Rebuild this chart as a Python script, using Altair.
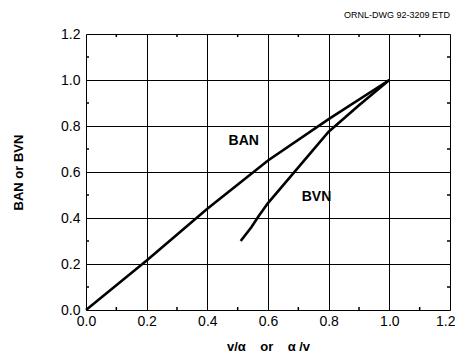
import altair as alt
import pandas as pd

ban_x = [0.0, 0.2, 0.4, 0.6, 0.8, 1.0]
ban_y = [0.0, 0.215, 0.44, 0.65, 0.83, 1.0]
bvn_x = [0.51, 0.545, 0.57, 0.6, 0.7, 0.8, 0.9, 1.0]
bvn_y = [0.30, 0.36, 0.41, 0.465, 0.62, 0.775, 0.89, 1.0]
label_text = ["BAN", "BVN"]
label_x = [0.52, 0.76]
label_y = [0.735, 0.49]
major = [0.0, 0.2, 0.4, 0.6, 0.8, 1.0, 1.2]
minor = [0.1, 0.3, 0.5, 0.7, 0.9, 1.1]

W, H = 364, 276
FONT = "Liberation Sans"
NB = "\u00a0"

df = pd.concat([
    pd.DataFrame({"x": ban_x, "y": ban_y, "s": "BAN"}),
    pd.DataFrame({"x": bvn_x, "y": bvn_y, "s": "BVN"}),
])
labels = pd.DataFrame({"t": label_text, "x": label_x, "y": label_y})
mdf = pd.DataFrame({"v": minor})

xs = alt.Scale(domain=[0, 1.2], nice=False, zero=False)
ys = alt.Scale(domain=[0, 1.2], nice=False, zero=False)

xtitle = "v/\u03b1" + NB * 4 + "or" + NB * 4 + "\u03b1 /v"

xaxis = alt.Axis(values=major, format=".1f", grid=True, gridColor="black", gridWidth=1,
                 gridOpacity=1, domain=False, ticks=False, labelFont=FONT, labelFontSize=14,
                 labelColor="black", labelPadding=4, labelFlush=False,
                 labelAlign={"condition": {"test": "datum.value >= 1.19", "value": "right"},
                             "value": "center"},
                 labelOffset={"condition": {"test": "datum.value >= 1.19", "value": 5},
                              "value": 0},
                 title=xtitle,
                 titleFont=FONT, titleFontSize=13, titleFontWeight="bold", titleColor="black",
                 titlePadding=12)
yaxis = alt.Axis(values=major, format=".1f", grid=True, gridColor="black", gridWidth=1,
                 gridOpacity=1, domain=False, ticks=False, labelFont=FONT, labelFontSize=14,
                 labelColor="black", labelPadding=6, labelFlush=False, title="BAN or BVN",
                 titleFont=FONT, titleFontSize=13, titleFontWeight="bold", titleColor="black",
                 titlePadding=35)

lines = alt.Chart(df).mark_line(color="black", strokeWidth=2.6).encode(
    x=alt.X("x:Q", scale=xs, axis=xaxis),
    y=alt.Y("y:Q", scale=ys, axis=yaxis),
    detail="s:N",
)

text = alt.Chart(labels).mark_text(font=FONT, fontSize=14, fontWeight="bold", color="black").encode(
    x=alt.X("x:Q", scale=xs), y=alt.Y("y:Q", scale=ys), text="t:N"
)

tb = alt.Chart(mdf).mark_rule(color="black", strokeWidth=1.5).encode(
    x=alt.X("v:Q", scale=xs), y=alt.value(H), y2=alt.value(H - 3))
tt = alt.Chart(mdf).mark_rule(color="black", strokeWidth=1.5).encode(
    x=alt.X("v:Q", scale=xs), y=alt.value(0), y2=alt.value(3))
tl = alt.Chart(mdf).mark_rule(color="black", strokeWidth=1.5).encode(
    y=alt.Y("v:Q", scale=ys), x=alt.value(0), x2=alt.value(3))
tr = alt.Chart(mdf).mark_rule(color="black", strokeWidth=1.5).encode(
    y=alt.Y("v:Q", scale=ys), x=alt.value(W), x2=alt.value(W - 3))

chart = alt.layer(lines, text, tb, tt, tl, tr).properties(
    width=W, height=H,
    autosize="none",
    padding={"left": 78, "top": 26, "right": 5, "bottom": 45},
    title=alt.TitleParams("ORNL-DWG 92-3209 ETD", anchor="end", frame="group", font=FONT,
                          fontSize=9, fontWeight="normal", color="black", offset=7),
).configure_view(stroke="black", strokeWidth=1.8).configure(background="white")

chart.save("out.html", embed_options={"renderer": "svg", "actions": False})
